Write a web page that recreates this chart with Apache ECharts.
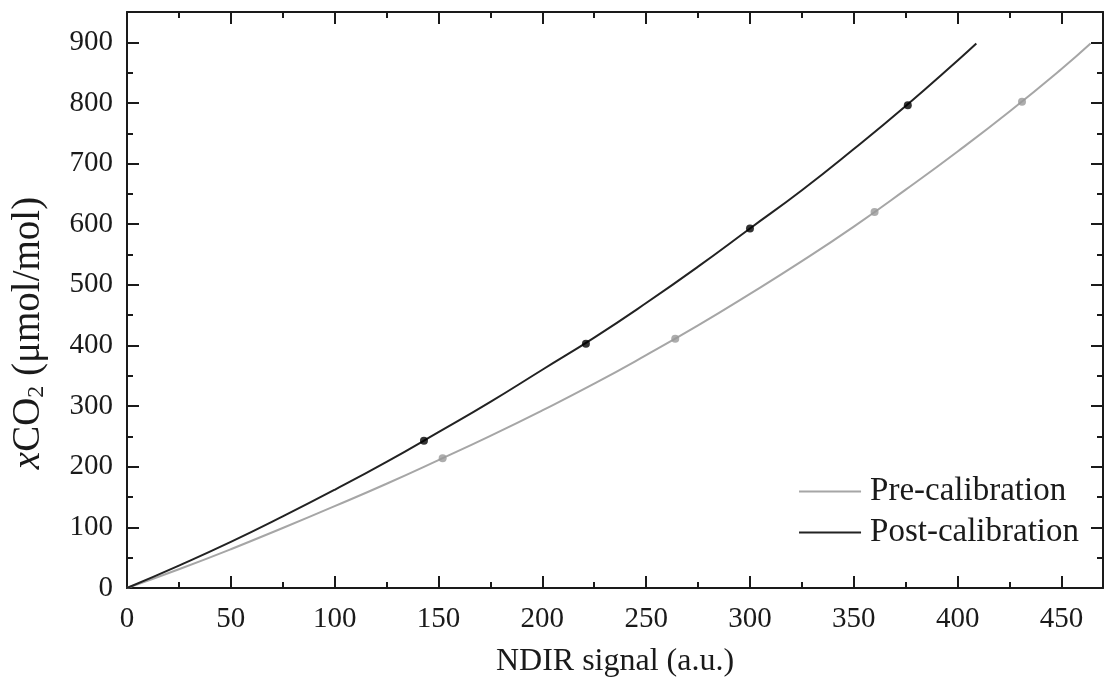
<!DOCTYPE html>
<html>
<head>
<meta charset="utf-8">
<script src="https://cdn.jsdelivr.net/npm/echarts@6/dist/echarts.min.js"></script>
<style>html,body{margin:0;padding:0;background:#fff}#c{width:1104px;height:678px}</style>
</head>
<body>
<div id="c"></div>
<script>
// Curve readings (NDIR signal -> xCO2)
const preX  = [0, 25, 50, 75, 100, 125, 150, 175, 200, 225, 250, 275, 300, 325, 350, 375, 400, 425, 450, 464];
const preY  = [0, 31, 64, 99, 135, 172, 211, 251, 293, 337, 384, 433, 485, 539, 596, 657, 720, 786, 856, 898];
const postX = [0, 25, 50, 75, 100, 125, 150, 175, 200, 225, 250, 275, 300, 325, 350, 375, 400, 409];
const postY = [0, 37, 76, 118, 162, 208, 257, 307, 360, 413, 470, 530, 593, 656, 724, 795, 870, 898];
// Measured calibration points
const prePtsX  = [152, 264, 360, 431];
const prePtsY  = [214, 411, 620, 802];
const postPtsX = [143, 221, 300, 376];
const postPtsY = [243, 403, 593, 796];
const seriesNames = ['Pre-calibration', 'Post-calibration'];
const xTitle = 'NDIR signal (a.u.)';

const zip = (a, b) => a.map((v, i) => [v, b[i]]);
const FONT = 'Liberation Serif';
const INK = '#1a1a1a';
const GRAY = '#a6a6a6';

const chart = echarts.init(document.getElementById('c'));
const axisCommon = {
  type: 'value',
  axisLine: { show: true, onZero: false, lineStyle: { color: INK, width: 2 } },
  axisTick: { show: true, inside: true, length: 12, lineStyle: { color: INK, width: 2 } },
  minorTick: { show: true, splitNumber: 2, length: 6, lineStyle: { color: INK, width: 2 } },
  splitLine: { show: false },
  axisLabel: { fontFamily: FONT, fontSize: 29, color: INK, showMaxLabel: false }
};
chart.setOption({
  animation: false,
  backgroundColor: '#fff',
  grid: { left: 127, right: 1, top: 12, bottom: 90, containLabel: false, outerBoundsMode: 'none' },
  xAxis: [
    Object.assign({}, axisCommon, {
      min: 0, max: 470, interval: 50, position: 'bottom',
      axisLabel: Object.assign({}, axisCommon.axisLabel, { margin: 17 }),
      name: xTitle, nameLocation: 'middle', nameGap: 58,
      nameTextStyle: { fontFamily: FONT, fontSize: 32, color: INK }
    }),
    Object.assign({}, axisCommon, {
      min: 0, max: 470, interval: 50, position: 'top',
      axisLabel: { show: false }
    })
  ],
  yAxis: [
    Object.assign({}, axisCommon, {
      min: 0, max: 950, interval: 100, position: 'left',
      axisLabel: Object.assign({}, axisCommon.axisLabel, { margin: 14 }),
      name: '{i|x}CO{s|2} (μmol/mol)', nameLocation: 'middle', nameGap: 78, nameRotate: 90,
      nameTextStyle: {
        fontFamily: FONT, fontSize: 39, color: INK, padding: [0, 66, 0, 0],
        rich: {
          i: { fontFamily: FONT, fontSize: 39, fontStyle: 'italic', color: INK },
          s: { fontFamily: FONT, fontSize: 24, color: INK, verticalAlign: 'bottom', padding: [17, 0, 0, 0] }
        }
      }
    }),
    Object.assign({}, axisCommon, {
      min: 0, max: 950, interval: 100, position: 'right',
      axisLabel: { show: false }
    })
  ],
  legend: {
    data: seriesNames,
    orient: 'vertical',
    right: 20, top: 470,
    itemGap: 8,
    itemWidth: 62, itemHeight: 2,
    icon: 'rect',
    textStyle: { fontFamily: FONT, fontSize: 33, color: INK, padding: [0, 0, 0, 4] }
  },
  series: [
    { name: seriesNames[0], type: 'line', data: zip(preX, preY), smooth: true, showSymbol: false,
      lineStyle: { color: GRAY, width: 2 }, itemStyle: { color: GRAY }, z: 2 },
    { name: seriesNames[1], type: 'line', data: zip(postX, postY), smooth: true, showSymbol: false,
      lineStyle: { color: '#222', width: 2 }, itemStyle: { color: '#222' }, z: 3 },
    { name: 'pre-points', type: 'scatter', data: zip(prePtsX, prePtsY), symbolSize: 8,
      itemStyle: { color: '#999' }, z: 4 },
    { name: 'post-points', type: 'scatter', data: zip(postPtsX, postPtsY), symbolSize: 8,
      itemStyle: { color: '#000' }, z: 5 }
  ]
});
</script>
</body>
</html>
